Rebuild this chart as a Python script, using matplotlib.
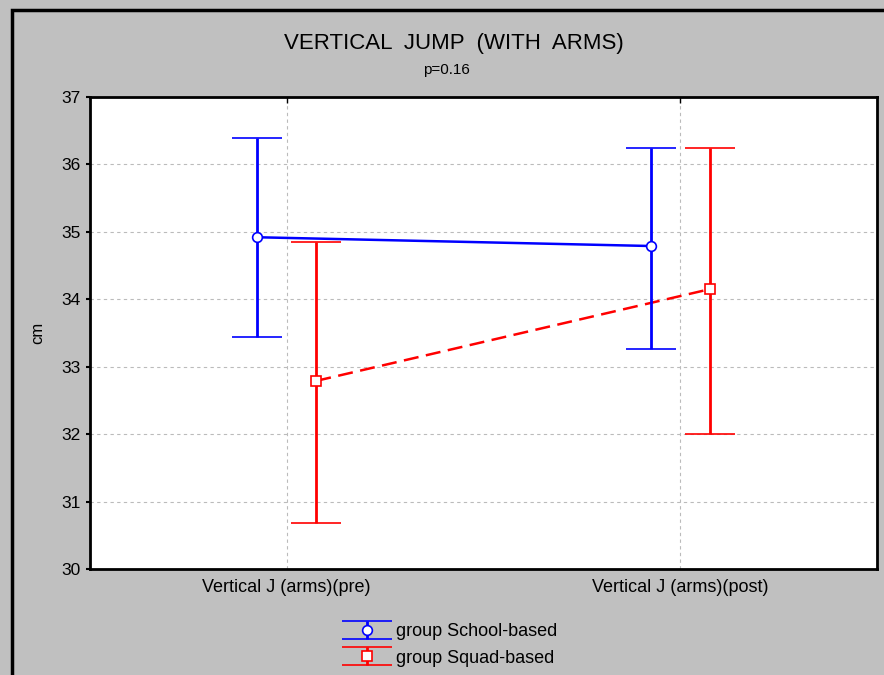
import numpy as np
import matplotlib
matplotlib.use('Agg')
import matplotlib.pyplot as plt
from matplotlib.patches import Rectangle

plt.rcParams['font.family'] = ['Liberation Sans', 'DejaVu Sans']

# Datos
categorias = ["Vertical J (arms)(pre)", "Vertical J (arms)(post)"]
school_media = [34.92, 34.79]
school_inf = [33.44, 33.26]
school_sup = [36.39, 36.24]
squad_media = [32.79, 34.15]
squad_inf = [30.68, 32.00]
squad_sup = [34.85, 36.24]

GRIS = "#c0c0c0"

fig = plt.figure(figsize=(8.84, 6.75), dpi=100, facecolor=GRIS)
ax = fig.add_axes([90 / 884, 1 - 569 / 675, 787 / 884, 472 / 675])
ax.set_facecolor("white")

x = np.arange(len(categorias))
off = 0.075

def dibujar(xs, media, inf, sup, color, marker, ls, label):
    media = np.array(media)
    yerr = [media - np.array(inf), np.array(sup) - media]
    ax.plot(xs, media, color=color, lw=1.8, ls=ls, zorder=3)
    cont = ax.errorbar(xs, media, yerr=yerr, fmt=marker, color=color, ecolor=color,
                       elinewidth=2, capsize=18, capthick=2, markersize=7,
                       markerfacecolor="white", markeredgecolor=color,
                       markeredgewidth=1.2, zorder=4, label=label)
    return cont

h1 = dibujar(x - off, school_media, school_inf, school_sup, "#0000ff", "o", "-",
             "group School-based")
h2 = dibujar(x + off, squad_media, squad_inf, squad_sup, "#ff0000", "s", (0, (6, 3)),
             "group Squad-based")

ax.set_xlim(-0.5, 1.5)
ax.set_ylim(30, 37)
ax.set_yticks(range(30, 38))
ax.set_xticks(x)
ax.set_xticklabels(categorias, fontsize=13)
ax.tick_params(axis="y", labelsize=12.5, direction="out", length=3, width=1.5)
ax.tick_params(axis="x", direction="in", length=4, width=1, top=True, bottom=False, pad=7)
ax.grid(True, color="#bbbbbb", ls=(0, (3, 3)), lw=0.8)
ax.set_axisbelow(True)
for s in ax.spines.values():
    s.set_linewidth(2)
ax.set_ylabel("cm", fontsize=12, labelpad=12)

fig.text(454 / 884, 1 - 43 / 675, "VERTICAL  JUMP  (WITH  ARMS)", ha="center", va="center",
         fontsize=16)
fig.text(446 / 884, 1 - 70 / 675, "p=0.16", ha="center", va="center", fontsize=11)

leg = fig.legend(handles=[h1, h2], loc="center", bbox_to_anchor=(452 / 884, 1 - 645 / 675),
                 frameon=False, fontsize=13, handlelength=2.2, handletextpad=0.5,
                 labelspacing=0.5)

# marco de la figura (borde izquierdo y superior)
fig.patches.append(Rectangle((12 / 884, -0.1), 1.2, 1 - 10 / 675 + 0.1, transform=fig.transFigure,
                             fill=False, edgecolor="black", lw=2.5))

fig.savefig("out.png", dpi=100, facecolor=GRIS)
